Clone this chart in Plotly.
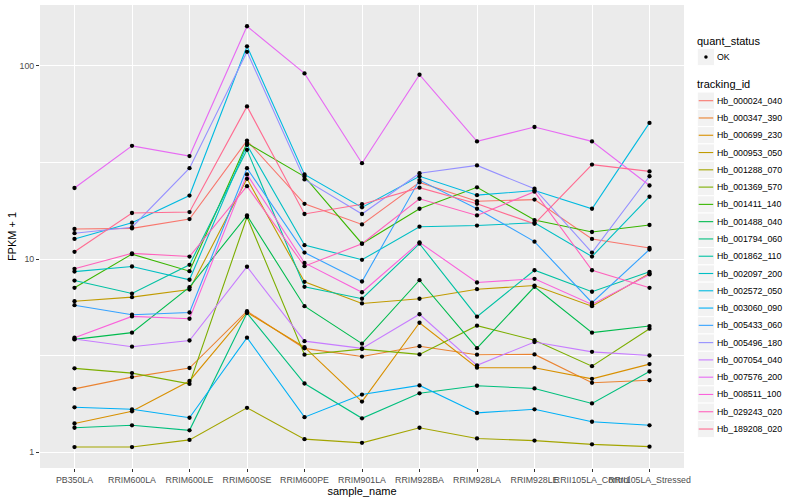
import plotly.graph_objects as go

samples = ["PB350LA", "RRIM600LA", "RRIM600LE", "RRIM600SE", "RRIM600PE", "RRIM901LA",
           "RRIM928BA", "RRIM928LA", "RRIM928LE", "RRII105LA_Control", "RRII105LA_Stressed"]

tracking_ids = ["Hb_000024_040", "Hb_000347_390", "Hb_000699_230", "Hb_000953_050", "Hb_001288_070",
                "Hb_001369_570", "Hb_001411_140", "Hb_001488_040", "Hb_001794_060", "Hb_001862_110",
                "Hb_002097_200", "Hb_002572_050", "Hb_003060_090", "Hb_005433_060", "Hb_005496_180",
                "Hb_007054_040", "Hb_007576_200", "Hb_008511_100", "Hb_029243_020", "Hb_189208_020"]

# FPKM + 1 per sample
hb_000024_040 = [14.3, 14.4, 16.1, 41.0, 19.3, 15.1, 24.9, 19.9, 20.3, 12.7, 11.4]
hb_000347_390 = [2.13, 2.45, 2.73, 5.37, 3.45, 3.13, 3.54, 3.20, 3.21, 2.29, 2.36]
hb_000699_230 = [1.41, 1.63, 2.34, 5.29, 3.50, 1.83, 4.68, 2.74, 2.74, 2.40, 2.86]
hb_000953_050 = [6.05, 6.35, 6.95, 26.0, 7.62, 5.89, 6.23, 6.98, 7.29, 5.70, 8.42]
hb_001288_070 = [1.065, 1.065, 1.16, 1.70, 1.17, 1.12, 1.34, 1.18, 1.15, 1.10, 1.07]
hb_001369_570 = [2.72, 2.57, 2.26, 16.5, 3.20, 3.42, 3.21, 4.52, 3.80, 2.79, 4.36]
hb_001411_140 = [7.10, 10.6, 8.65, 39.8, 26.7, 12.0, 18.2, 23.5, 15.9, 13.8, 15.0]
hb_001488_040 = [3.84, 4.16, 7.15, 16.8, 5.70, 3.65, 7.77, 3.46, 7.18, 4.16, 4.50]
hb_001794_060 = [1.34, 1.38, 1.30, 5.25, 2.27, 1.50, 2.02, 2.21, 2.14, 1.79, 2.62]
hb_001862_110 = [7.74, 6.63, 9.33, 36.7, 7.18, 6.23, 12.0, 5.03, 8.75, 6.77, 8.59]
hb_002097_200 = [8.61, 9.15, 7.81, 38.9, 11.8, 9.91, 14.7, 14.9, 15.4, 10.3, 21.0]
hb_002572_050 = [12.7, 15.4, 21.3, 126.0, 27.4, 18.5, 26.8, 21.4, 22.6, 18.2, 50.6]
hb_003060_090 = [1.71, 1.67, 1.51, 3.92, 1.52, 1.99, 2.22, 1.60, 1.67, 1.44, 1.38]
hb_005433_060 = [5.77, 5.15, 5.29, 29.5, 10.8, 7.65, 25.6, 18.2, 12.3, 5.94, 11.2]
hb_005496_180 = [13.6, 14.6, 29.5, 118.0, 25.8, 17.1, 27.8, 30.5, 23.1, 10.8, 26.8]
hb_007054_040 = [3.86, 3.52, 3.79, 9.12, 3.76, 3.45, 5.18, 2.82, 3.72, 3.31, 3.17]
hb_007576_200 = [23.3, 38.5, 34.1, 160.0, 91.2, 31.3, 89.8, 40.6, 48.2, 40.6, 24.0]
hb_008511_100 = [3.92, 5.05, 4.91, 27.4, 9.55, 6.73, 12.2, 7.56, 7.90, 5.82, 8.32]
hb_029243_020 = [8.90, 10.7, 10.3, 23.8, 9.18, 12.0, 20.5, 16.8, 22.3, 8.75, 7.10]
hb_189208_020 = [10.9, 17.3, 17.5, 61.6, 17.1, 19.2, 23.4, 19.3, 15.2, 30.8, 28.4]

series = [hb_000024_040, hb_000347_390, hb_000699_230, hb_000953_050, hb_001288_070,
          hb_001369_570, hb_001411_140, hb_001488_040, hb_001794_060, hb_001862_110,
          hb_002097_200, hb_002572_050, hb_003060_090, hb_005433_060, hb_005496_180,
          hb_007054_040, hb_007576_200, hb_008511_100, hb_029243_020, hb_189208_020]

colors = ["#F8766D", "#EA8331", "#D89000", "#C09B00", "#A3A500", "#7CAE00", "#39B600", "#00BB4E",
          "#00BF7D", "#00C1A3", "#00BFC4", "#00BAE0", "#00B0F6", "#35A2FF", "#9590FF", "#C77CFF",
          "#E76BF3", "#FA62DB", "#FF62BC", "#FF6C91"]

FONT = "Liberation Sans, Arial, sans-serif"
W, H = 800, 500
L, R, T, B = 40, 684, 5, 468

fig = go.Figure()
for name, vals, col in zip(tracking_ids, series, colors):
    fig.add_trace(go.Scatter(x=samples, y=vals, mode="lines", name=name,
                             line=dict(color=col, width=1.1), showlegend=False))

all_x = [s for _ in series for s in samples]
all_y = [v for vals in series for v in vals]
fig.add_trace(go.Scatter(x=all_x, y=all_y, mode="markers", name="OK",
                         marker=dict(color="black", size=4.3, line=dict(width=0)),
                         showlegend=False))

def px(xp):
    return (xp - L) / (R - L)

def py(yp):
    return (B - yp) / (B - T)

shapes = []
annotations = []

def title_text(text, y):
    annotations.append(dict(x=px(695), y=py(y), xref="paper", yref="paper", text=text,
                            showarrow=False, xanchor="left", yanchor="middle",
                            font=dict(family=FONT, size=11, color="black")))

def key_box(yc):
    shapes.append(dict(type="rect", xref="paper", yref="paper",
                       x0=px(697.3), x1=px(714.6), y0=py(yc - 8.64), y1=py(yc + 8.64),
                       fillcolor="#F2F2F2", line=dict(color="white", width=1), layer="below"))

def key_label(text, yc):
    annotations.append(dict(x=px(715.3), y=py(yc), xref="paper", yref="paper", text=text,
                            showarrow=False, xanchor="left", yanchor="middle",
                            font=dict(family=FONT, size=8.8, color="black")))

title_text("quant_status", 40.7)
key_box(57)
shapes.append(dict(type="circle", xref="paper", yref="paper",
                   x0=px(704.2), x1=px(707.7), y0=py(55.2), y1=py(58.7),
                   fillcolor="black", line=dict(width=0)))
key_label("OK", 57)

title_text("tracking_id", 84)
step = 17.28
for i, (name, col) in enumerate(zip(tracking_ids, colors)):
    yc = 100.7 + i * step
    key_box(yc)
    shapes.append(dict(type="line", xref="paper", yref="paper",
                       x0=px(698.7), x1=px(713.2), y0=py(yc), y1=py(yc),
                       line=dict(color=col, width=1.1)))
    key_label(name, yc)

fig.update_layout(
    width=W, height=H,
    margin=dict(l=L, r=W - R, t=T, b=H - B, pad=0, autoexpand=False),
    paper_bgcolor="white", plot_bgcolor="#EBEBEB",
    font=dict(family=FONT, size=8.8, color="#4D4D4D"),
    showlegend=False,
    shapes=shapes, annotations=annotations,
    xaxis=dict(type="category", range=[-0.6, len(samples) - 0.4], automargin=False,
               showgrid=True, gridcolor="white", gridwidth=1.2, zeroline=False, showline=False,
               ticks="outside", ticklen=3, tickwidth=1, tickcolor="#333333", tickangle=0,
               tickfont=dict(family=FONT, size=8.8, color="#4D4D4D"),
               title=dict(text="sample_name", standoff=0,
                          font=dict(family=FONT, size=11, color="black"))),
    yaxis=dict(type="log", range=[-0.081, 2.314], automargin=False,
               tickvals=[1, 10, 100], ticktext=["1", "10", "100"],
               showgrid=True, gridcolor="white", gridwidth=1.2, zeroline=False, showline=False,
               ticks="outside", ticklen=3, tickwidth=1, tickcolor="#333333",
               tickfont=dict(family=FONT, size=8.8, color="#4D4D4D"),
               minor=dict(tickvals=[10 ** 0.5, 10 ** 1.5], showgrid=True, gridcolor="white",
                          gridwidth=0.6, ticks=""),
               title=dict(text="FPKM + 1", standoff=0,
                          font=dict(family=FONT, size=11, color="black"))),
)

fig.write_html("out.html", config={"displayModeBar": False},
               post_script="document.body.style.margin='0';document.body.style.overflow='hidden';")
